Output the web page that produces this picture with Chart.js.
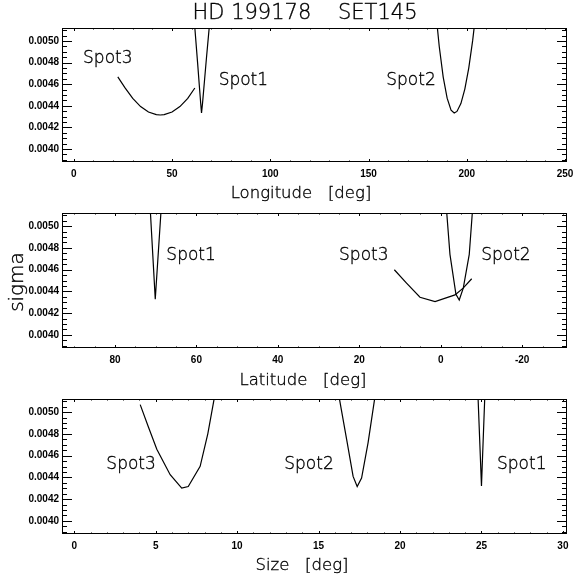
<!DOCTYPE html>
<html>
<head>
<meta charset="utf-8">
<script src="https://cdn.jsdelivr.net/npm/chart.js@4.4.0/dist/chart.umd.min.js"></script>
<style>
  body { margin: 0; background: #fff; }
  #wrap { position: relative; width: 573px; height: 579px; }
  canvas { position: absolute; left: 0; }
</style>
</head>
<body>
<div id="wrap">
  <canvas id="lonChart" width="573" height="210" style="top:0px"></canvas>
  <canvas id="latChart" width="573" height="197" style="top:200px"></canvas>
  <canvas id="sizeChart" width="573" height="192" style="top:387px"></canvas>
</div>
<script>
// sigma axis (same for all three panels)
const sigmaTicks = [0.0040, 0.0042, 0.0044, 0.0046, 0.0048, 0.0050];

// Longitude panel
const lonTicks = [0, 50, 100, 150, 200, 250];
const lonSpot1 = [61.0, 62.0, 63.0, 64.0, 64.6, 65.0, 65.5, 66.5, 67.5, 68.5, 69.5];
const lonSpot1Sigma = [0.00526, 0.00503, 0.00480, 0.00456, 0.00442, 0.004333, 0.00442, 0.00463, 0.00484, 0.00504, 0.00524];
const lonSpot2 = [184, 186, 188, 190, 192, 193.6, 195, 197, 199, 201, 203, 205];
const lonSpot2Sigma = [0.00531, 0.004946, 0.004666, 0.004471, 0.00436, 0.004333, 0.004348, 0.004421, 0.004555, 0.004749, 0.005005, 0.00532];
const lonSpot3 = [22.4, 26, 30, 34, 38, 42, 44, 46, 50, 54, 58, 61.6];
const lonSpot3Sigma = [0.004667, 0.004568, 0.004468, 0.004393, 0.004343, 0.004318, 0.004315, 0.004318, 0.004343, 0.004393, 0.004468, 0.004565];

// Latitude panel
const latTicks = [80, 60, 40, 20, 0, -20];
const latSpot1 = [71.7, 70.1, 68.3];
const latSpot1Sigma = [0.00540, 0.004328, 0.00536];
const latSpot2 = [-1.0, -2.26, -3.73, -4.54, -5.53, -7.0, -8.2];
const latSpot2Sigma = [0.00535, 0.00474, 0.004374, 0.004321, 0.00443, 0.00474, 0.00535];
const latSpot3 = [11.4, 8.4, 5.1, 1.4, -3.5, -5.5, -7.6];
const latSpot3Sigma = [0.004599, 0.004476, 0.004346, 0.004306, 0.004368, 0.00443, 0.004516];

// Size panel
const sizeTicks = [0, 5, 10, 15, 20, 25, 30];
const sizeSpot1 = [24.7, 25.0, 25.3];
const sizeSpot1Sigma = [0.00548, 0.004322, 0.00553];
const sizeSpot2 = [16.0, 16.4, 16.72, 17.12, 17.37, 17.64, 18.04, 18.45, 18.7];
const sizeSpot2Sigma = [0.00536, 0.00502, 0.004751, 0.004409, 0.004316, 0.004394, 0.00472, 0.00513, 0.00538];
const sizeSpot3 = [4.05, 4.56, 5.07, 5.89, 6.6, 7.0, 7.73, 8.2, 8.6, 8.9];
const sizeSpot3Sigma = [0.005068, 0.00486, 0.004658, 0.004425, 0.004301, 0.004316, 0.004502, 0.00480, 0.00513, 0.0054];

const bigFont = '"DejaVu Sans", sans-serif';
const tickFont = { family: '"Liberation Sans", Arial, sans-serif', size: 10, weight: 'bold' };

function drawThinText(ctx, text, x, y) {
  ctx.fillText(text, x, y);
  ctx.strokeText(text, x, y); // darkens the extra-light strokes a little
}

function makePanel(id, cfg) {
  const datasets = cfg.series.map(s => ({
    data: s.x.map((v, i) => ({ x: v, y: s.y[i] })),
    borderColor: '#000',
    borderWidth: 1.2,
    pointRadius: 0,
    tension: 0,
    fill: false
  }));

  // frame with inward ticks, IDL style
  const frameTicks = {
    id: 'frameTicks',
    afterDatasetsDraw(chart) {
      const { ctx, chartArea: a, scales: { x, y } } = chart;
      ctx.save();
      ctx.strokeStyle = '#000';
      ctx.lineWidth = 1;
      ctx.strokeRect(a.left + 0.5, a.top + 0.5, a.right - a.left - 1, a.bottom - a.top - 1);
      ctx.beginPath();
      const xs = Math.abs(cfg.xTicks[1] - cfg.xTicks[0]) / cfg.xMinor;
      for (let i = Math.ceil(x.min / xs); i <= Math.floor(x.max / xs); i++) {
        const px = Math.round(x.getPixelForValue(i * xs)) + 0.5;
        const len = (i % cfg.xMinor === 0) ? 3 : 1.5;
        ctx.moveTo(px, a.bottom); ctx.lineTo(px, a.bottom - len);
        ctx.moveTo(px, a.top); ctx.lineTo(px, a.top + len);
      }
      const ys = (sigmaTicks[1] - sigmaTicks[0]) / 4;
      for (let i = Math.ceil(y.min / ys - 1e-6); i <= Math.floor(y.max / ys + 1e-6); i++) {
        const py = Math.round(y.getPixelForValue(i * ys)) + 0.5;
        const len = (i % 4 === 0) ? 10 : 5;
        ctx.moveTo(a.left, py); ctx.lineTo(a.left + len, py);
        ctx.moveTo(a.right, py); ctx.lineTo(a.right - len, py);
      }
      ctx.stroke();
      ctx.restore();
    }
  };

  // spot labels and titles
  const panelText = {
    id: 'panelText',
    afterDraw(chart) {
      const { ctx, scales: { x, y } } = chart;
      ctx.save();
      ctx.fillStyle = '#000';
      ctx.strokeStyle = '#000';
      ctx.lineWidth = 0.35;
      ctx.textAlign = 'center';
      ctx.textBaseline = 'alphabetic';
      ctx.font = '200 17px ' + bigFont;
      cfg.spotNames.forEach((name, i) => {
        drawThinText(ctx, name, x.getPixelForValue(cfg.spotAt[i][0]), y.getPixelForValue(cfg.spotAt[i][1]));
      });
      cfg.texts.forEach(t => {
        ctx.font = '200 ' + t.size + 'px ' + bigFont;
        if (t.rotate) {
          ctx.save();
          ctx.translate(t.px, t.py);
          ctx.rotate(-Math.PI / 2);
          drawThinText(ctx, t.text, 0, 0);
          ctx.restore();
        } else {
          drawThinText(ctx, t.text, t.px, t.py);
        }
      });
      ctx.restore();
    }
  };

  return new Chart(document.getElementById(id), {
    type: 'line',
    data: { datasets },
    options: {
      responsive: false,
      animation: false,
      layout: { padding: { top: cfg.padTop, right: 6, left: 0, bottom: 0 } },
      plugins: { legend: { display: false }, tooltip: { enabled: false } },
      scales: {
        x: {
          type: 'linear',
          min: cfg.xMin,
          max: cfg.xMax,
          reverse: !!cfg.reverse,
          afterFit: s => { s.height = cfg.xHeight; s.paddingLeft = 0; s.paddingRight = 0; },
          afterBuildTicks: s => { s.ticks = cfg.xTicks.map(v => ({ value: v })); },
          grid: { display: false, drawTicks: false },
          border: { display: false },
          ticks: { font: tickFont, color: '#000', padding: 6, maxRotation: 0, autoSkip: false, callback: v => String(v) }
        },
        y: {
          type: 'linear',
          min: 0.00388,
          max: 0.00512,
          afterFit: s => { s.width = 62; s.paddingTop = 0; s.paddingBottom = 0; },
          afterBuildTicks: s => { s.ticks = sigmaTicks.map(v => ({ value: v })); },
          grid: { display: false, drawTicks: false },
          border: { display: false },
          ticks: { font: tickFont, color: '#000', padding: 3, autoSkip: false, callback: v => v.toFixed(4) }
        }
      }
    },
    plugins: [frameTicks, panelText]
  });
}

makePanel('lonChart', {
  padTop: 28, xHeight: 48,
  xMin: -6, xMax: 251, xTicks: lonTicks, xMinor: 5,
  series: [
    { x: lonSpot1, y: lonSpot1Sigma },
    { x: lonSpot2, y: lonSpot2Sigma },
    { x: lonSpot3, y: lonSpot3Sigma }
  ],
  spotNames: ['Spot3', 'Spot1', 'Spot2'],
  spotAt: [[17.3, 0.004794], [86.3, 0.004593], [171.6, 0.004593]],
  texts: [
    { text: 'HD 199178    SET145', px: 305, py: 19, size: 21 },
    { text: 'Longitude   [deg]', px: 301, py: 198, size: 16.5 }
  ]
});

makePanel('latChart', {
  padTop: 13, xHeight: 49,
  xMin: -31, xMax: 93, xTicks: latTicks, xMinor: 4, reverse: true,
  series: [
    { x: latSpot1, y: latSpot1Sigma },
    { x: latSpot2, y: latSpot2Sigma },
    { x: latSpot3, y: latSpot3Sigma }
  ],
  spotNames: ['Spot1', 'Spot3', 'Spot2'],
  spotAt: [[61.3, 0.004685], [18.9, 0.004685], [-16.0, 0.004685]],
  texts: [
    { text: 'sigma', px: 23, py: 82, size: 20, rotate: true },
    { text: 'Latitude   [deg]', px: 303, py: 185, size: 16.5 }
  ]
});

makePanel('sizeChart', {
  padTop: 12, xHeight: 45,
  xMin: -0.75, xMax: 30.25, xTicks: sizeTicks, xMinor: 5,
  series: [
    { x: sizeSpot1, y: sizeSpot1Sigma },
    { x: sizeSpot2, y: sizeSpot2Sigma },
    { x: sizeSpot3, y: sizeSpot3Sigma }
  ],
  spotNames: ['Spot3', 'Spot2', 'Spot1'],
  spotAt: [[3.49, 0.004479], [14.41, 0.004479], [27.47, 0.004479]],
  texts: [
    { text: 'Size   [deg]', px: 302, py: 183, size: 16.5 }
  ]
});
</script>
</body>
</html>
